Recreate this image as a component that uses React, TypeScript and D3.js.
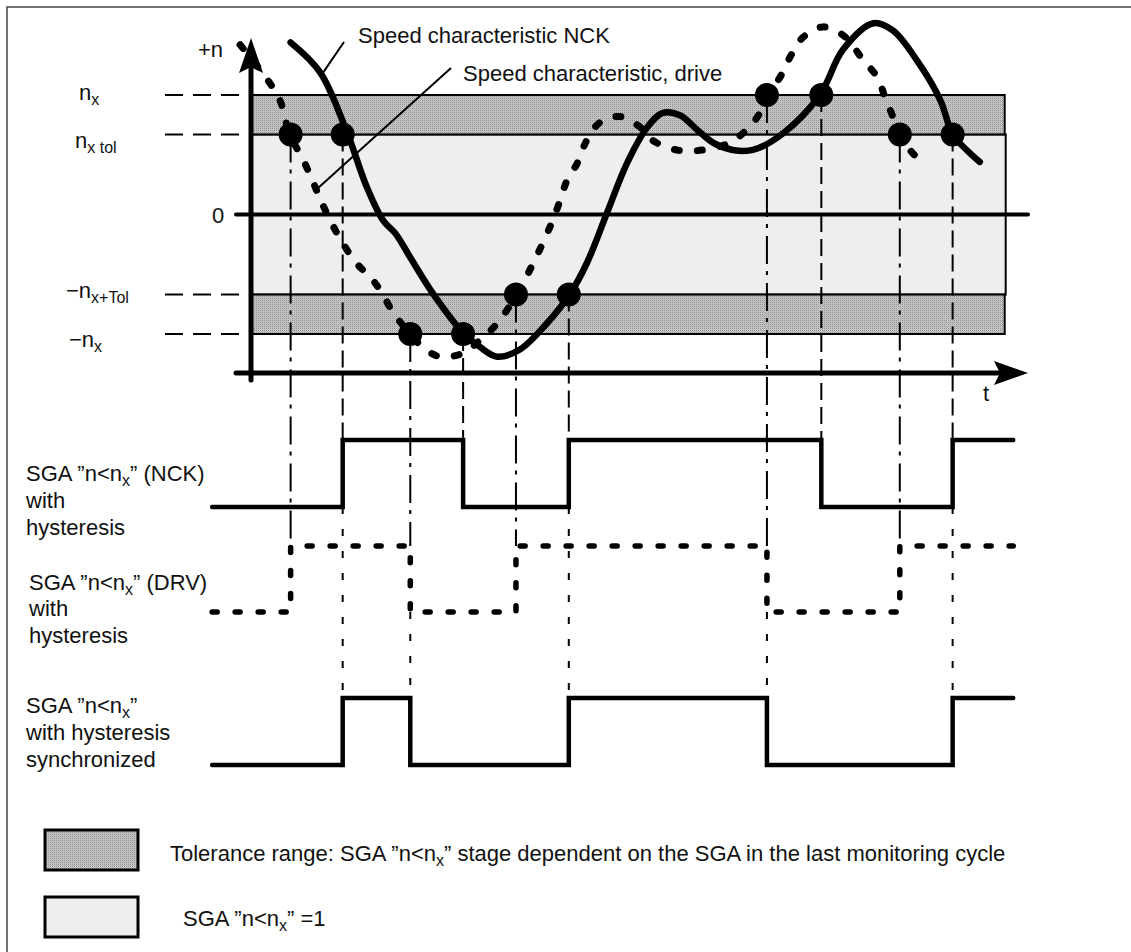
import * as d3 from "d3";
import React, { useEffect, useRef } from "react";

const WIDTH = 1131;
const HEIGHT = 952;
const FONT = "'Liberation Sans', Arial, Helvetica, sans-serif";

// speed levels in units of n_x
const levelNames = ["nx", "nxTol", "zero", "negTol", "negNx"];
const levelValues = [1, 0.67, 0, -0.67, -1];

// time axis runs 0..100 (arbitrary units)
// speed characteristic NCK  [t, n]
const nckCurve: [number, number][] = [
  [5.1, 1.44], [8.9, 1.19], [12.4, 0.68], [14.9, 0.23], [17.0, -0.05],
  [18.6, -0.16], [20.5, -0.36], [23.4, -0.66], [27.3, -0.99], [29.5, -1.11],
  [31.7, -1.19], [34.6, -1.13], [38.1, -0.91], [41.1, -0.66], [43.2, -0.41],
  [45.8, 0.01], [48.4, 0.43], [51.0, 0.73], [53.0, 0.85], [55.2, 0.83],
  [57.4, 0.71], [59.5, 0.6], [62.0, 0.54], [64.6, 0.54], [68.5, 0.68],
  [73.2, 1.0], [76.2, 1.38], [80.1, 1.6], [82.6, 1.54], [85.7, 1.29],
  [88.7, 0.96], [90.3, 0.67], [92.1, 0.54], [93.8, 0.44],
];

// speed characteristic drive  [t, n]
const driveCurve: [number, number][] = [
  [-1.4, 1.42], [2.1, 1.13], [3.7, 0.96], [5.0, 0.67], [6.7, 0.46],
  [8.0, 0.27], [9.1, 0.1], [10.6, -0.1], [11.8, -0.24], [13.6, -0.41],
  [15.3, -0.52], [16.6, -0.63], [18.3, -0.82], [20.5, -1.0], [22.1, -1.11],
  [24.3, -1.19], [27.3, -1.16], [29.5, -1.05], [31.7, -0.91], [34.2, -0.67],
  [36.3, -0.41], [38.5, -0.1], [39.8, 0.12], [40.7, 0.29], [42.0, 0.43],
  [43.2, 0.62], [44.9, 0.77], [47.5, 0.82], [50.1, 0.73], [51.7, 0.62],
  [54.8, 0.54], [58.2, 0.54], [61.6, 0.6], [63.8, 0.71], [65.5, 0.85],
  [66.4, 1.0], [68.1, 1.15], [69.4, 1.32], [71.0, 1.48], [73.6, 1.57],
  [76.4, 1.49], [78.8, 1.29], [80.6, 1.15], [81.6, 0.98], [82.6, 0.82],
  [83.5, 0.67], [85.2, 0.51], [87.1, 0.41],
];

// threshold crossings (marked with dots)
const nckEvents = [11.8, 27.3, 40.9, 73.4, 90.3];
const nckEventLevels = [0.67, -1, -0.67, 1, 0.67];
const driveEvents = [5.1, 20.5, 34.1, 66.4, 83.5];
const driveEventLevels = [0.67, -1, -0.67, 1, 0.67];
// edges of the synchronized SGA
const syncEdges = [11.8, 20.5, 40.9, 66.4, 90.3];

const signalStart = -5.0;
const signalEnd = 98.1;
const bandEnd = 97.0;

const App: React.FC = () => {
  const svgRef = useRef<SVGSVGElement>(null);

  useEffect(() => {
    document.body.style.margin = "0";
    const svg = d3.select(svgRef.current);
    svg.selectAll("*").remove();

    const x = d3.scaleLinear().domain([0, 100]).range([251, 1028]);
    const y = d3.scaleLinear().domain([-1, 1]).range([334, 95]);
    const lvl = (name: string) => levelValues[levelNames.indexOf(name)];

    // signal rows: 0 -> low, 1 -> high
    const rowNck = d3.scaleLinear().domain([0, 1]).range([507, 440]);
    const rowDrv = d3.scaleLinear().domain([0, 1]).range([612, 546]);
    const rowSync = d3.scaleLinear().domain([0, 1]).range([765, 698]);

    const defs = svg.append("defs");
    const pat = defs
      .append("pattern")
      .attr("id", "tol")
      .attr("width", 2)
      .attr("height", 2)
      .attr("patternUnits", "userSpaceOnUse");
    pat.append("rect").attr("width", 2).attr("height", 2).attr("fill", "#cdcdcd");
    pat.append("rect").attr("width", 1).attr("height", 1).attr("fill", "#8e8e8e");
    pat.append("rect").attr("x", 1).attr("y", 1).attr("width", 1).attr("height", 1).attr("fill", "#b4b4b4");

    // frame
    svg.append("path")
      .attr("d", `M7,${HEIGHT} L7,7 L${WIDTH},7`)
      .attr("fill", "none")
      .attr("stroke", "#444")
      .attr("stroke-width", 1.5);

    // bands
    const band = (top: number, bottom: number, fill: string, right: number) =>
      svg.append("rect")
        .attr("x", x(0))
        .attr("y", y(top))
        .attr("width", right - x(0))
        .attr("height", y(bottom) - y(top))
        .attr("fill", fill)
        .attr("stroke", "#000")
        .attr("stroke-width", 2);
    band(lvl("nxTol"), lvl("negTol"), "#eeeeee", x(bandEnd) + 1);
    band(lvl("nx"), lvl("nxTol"), "url(#tol)", x(bandEnd));
    band(lvl("negTol"), lvl("negNx"), "url(#tol)", x(bandEnd));

    // dashed level ticks
    [lvl("nx"), lvl("nxTol"), lvl("negTol"), lvl("negNx")].forEach((v) => {
      svg.append("line")
        .attr("x1", 165).attr("x2", 249)
        .attr("y1", y(v)).attr("y2", y(v))
        .attr("stroke", "#000")
        .attr("stroke-width", 2)
        .attr("stroke-dasharray", "18,10");
    });

    // zero line
    svg.append("line")
      .attr("x1", 236).attr("x2", x(100))
      .attr("y1", y(0)).attr("y2", y(0))
      .attr("stroke", "#000")
      .attr("stroke-width", 4)
      .attr("stroke-linecap", "round");

    // drop lines
    const drop = (x0: number, y1: number, y2: number, dash: string, w = 2) =>
      svg.append("line")
        .attr("x1", x0).attr("x2", x0)
        .attr("y1", y1).attr("y2", y2)
        .attr("stroke", "#000")
        .attr("stroke-width", w)
        .attr("stroke-dasharray", dash);

    driveEvents.forEach((t, i) => {
      drop(x(t), y(driveEventLevels[i]), rowDrv(1), "28,7,4,8");
      if (syncEdges.includes(t)) drop(x(t), rowDrv(0), rowSync(1), "7,15");
    });
    nckEvents.forEach((t, i) => {
      drop(x(t), y(nckEventLevels[i]), rowNck(1), "17,7");
      if (syncEdges.includes(t)) drop(x(t), rowNck(0), rowSync(1), "7,15");
    });

    // axes
    svg.append("line")
      .attr("x1", x(0)).attr("x2", x(0))
      .attr("y1", 60).attr("y2", 380)
      .attr("stroke", "#000").attr("stroke-width", 5).attr("stroke-linecap", "round");
    svg.append("line")
      .attr("x1", 236).attr("x2", 1005)
      .attr("y1", 373).attr("y2", 373)
      .attr("stroke", "#000").attr("stroke-width", 5).attr("stroke-linecap", "round");
    svg.append("path")
      .attr("d", `M${x(0)},38 L${x(0) + 12},73 L${x(0)},67 L${x(0) - 12},73 Z`)
      .attr("fill", "#000");
    svg.append("path")
      .attr("d", `M${x(100)},373 L994,361 L1000,373 L994,385 Z`)
      .attr("fill", "#000");

    // curves
    const curve = d3
      .line<[number, number]>()
      .x((d) => x(d[0]))
      .y((d) => y(d[1]))
      .curve(d3.curveCatmullRom.alpha(0.5));

    svg.append("path")
      .attr("d", curve(driveCurve))
      .attr("fill", "none")
      .attr("stroke", "#000")
      .attr("stroke-width", 7)
      .attr("stroke-linecap", "round")
      .attr("stroke-dasharray", "5,18");

    svg.append("path")
      .attr("d", curve(nckCurve))
      .attr("fill", "none")
      .attr("stroke", "#000")
      .attr("stroke-width", 6.5)
      .attr("stroke-linecap", "round");

    // crossing dots
    const dots = [
      ...nckEvents.map((t, i) => [t, nckEventLevels[i]]),
      ...driveEvents.map((t, i) => [t, driveEventLevels[i]]),
    ];
    svg.selectAll(".dot")
      .data(dots)
      .join("circle")
      .attr("class", "dot")
      .attr("cx", (d) => x(d[0]))
      .attr("cy", (d) => y(d[1]))
      .attr("r", 12)
      .attr("fill", "#000");

    // leader lines
    svg.append("line")
      .attr("x1", x(9.1)).attr("y1", y(1.17))
      .attr("x2", 344).attr("y2", 42)
      .attr("stroke", "#000").attr("stroke-width", 2);
    svg.append("line")
      .attr("x1", x(8.6)).attr("y1", y(0.22))
      .attr("x2", 451).attr("y2", 68)
      .attr("stroke", "#000").attr("stroke-width", 2);

    // signals
    const steps = (edges: number[]): [number, number][] => {
      const pts: [number, number][] = [[signalStart, 0]];
      edges.forEach((t, i) => pts.push([t, (i + 1) % 2]));
      pts.push([signalEnd, edges.length % 2]);
      return pts;
    };
    const signal = (edges: number[], row: d3.ScaleLinear<number, number>, dotted: boolean) => {
      const line = d3
        .line<[number, number]>()
        .x((d) => x(d[0]))
        .y((d) => row(d[1]))
        .curve(d3.curveStepAfter);
      const p = svg.append("path")
        .attr("d", line(steps(edges)))
        .attr("fill", "none")
        .attr("stroke", "#000")
        .attr("stroke-linecap", "round")
        .attr("stroke-linejoin", "miter");
      if (dotted) p.attr("stroke-width", 5.5).attr("stroke-dasharray", "5,18");
      else p.attr("stroke-width", 4.5);
    };
    signal(nckEvents, rowNck, false);
    signal(driveEvents, rowDrv, true);
    signal(syncEdges, rowSync, false);

    // text
    const label = (
      lx: number,
      ly: number,
      main: string,
      sub?: string,
      after?: string,
      size = 22
    ) => {
      const t = svg.append("text")
        .attr("x", lx).attr("y", ly)
        .attr("font-family", FONT)
        .attr("font-size", size)
        .attr("fill", "#111");
      t.append("tspan").text(main);
      if (sub) t.append("tspan").attr("font-size", 16).attr("dy", 5).text(sub);
      if (after) t.append("tspan").attr("dy", -5).text(after);
    };

    label(198, 57, "+n");
    label(79, 100, "n", "x");
    label(75, 148, "n", "x tol");
    label(212, 223, "0");
    label(66, 298, "\u2212n", "x+Tol");
    label(69, 347, "\u2212n", "x");
    label(983, 401, "t");
    label(358, 43, "Speed characteristic NCK");
    label(463, 81, "Speed characteristic, drive");

    label(26, 481, "SGA \u201dn<n", "x", "\u201d (NCK)");
    label(26, 508, "with");
    label(26, 535, "hysteresis");
    label(29, 590, "SGA \u201dn<n", "x", "\u201d (DRV)");
    label(29, 616, "with");
    label(29, 643, "hysteresis");
    label(26, 713, "SGA \u201dn<n", "x", "\u201d");
    label(26, 740, "with hysteresis");
    label(26, 767, "synchronized");

    // legend
    svg.append("rect")
      .attr("x", 45).attr("y", 830).attr("width", 93).attr("height", 40)
      .attr("fill", "url(#tol)").attr("stroke", "#000").attr("stroke-width", 3);
    svg.append("rect")
      .attr("x", 45).attr("y", 897).attr("width", 93).attr("height", 40)
      .attr("fill", "#eeeeee").attr("stroke", "#000").attr("stroke-width", 3);
    label(170, 861, "Tolerance range: SGA \u201dn<n", "x", "\u201d stage dependent on the SGA in the last monitoring cycle");
    label(183, 926, "SGA \u201dn<n", "x", "\u201d =1");
  }, []);

  return (
    <svg
      ref={svgRef}
      width={WIDTH}
      height={HEIGHT}
      style={{ display: "block", background: "#fff" }}
    />
  );
};

export default App;
